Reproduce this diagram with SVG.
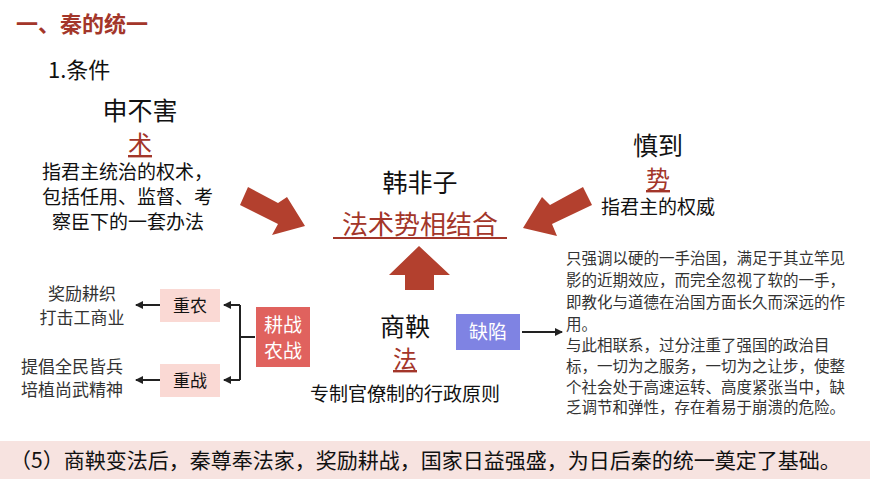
<svg xmlns="http://www.w3.org/2000/svg" width="870" height="489" viewBox="0 0 870 489">
<style>
text{font-family:"Noto Sans CJK SC","Liberation Sans",sans-serif;fill:#111}
.red{fill:#A3362A}
.c{text-anchor:middle}
.blk{fill:#B3402E}
.small{font-size:15.5px;fill:#333}
.mid{font-size:17px;fill:#333}
.ln{stroke:#222;stroke-width:2;fill:none}
</style>
<defs><marker id="ah" markerWidth="8" markerHeight="8" refX="7" refY="4" orient="auto" markerUnits="userSpaceOnUse"><path d="M0,0L8,4L0,8z" fill="#222"/></marker></defs>
<rect width="870" height="489" fill="#fff"/>
<text x="16" y="32" class="red" style="font-size:22px;font-weight:bold">一、秦的统一</text>
<text x="48" y="78" style="font-size:22px">1.条件</text>
<g id="shenbuhai">
<text x="140" y="120" class="c" style="font-size:25px">申不害</text>
<text x="140" y="153" class="c red" style="font-size:24px;text-decoration:underline">术</text>
<text x="42" y="179" style="font-size:19px">指君主统治的权术，</text>
<text x="42" y="204" style="font-size:19px">包括任用、监督、考</text>
<text x="52" y="229" style="font-size:19px">察臣下的一套办法</text>
</g>
<g id="shendao">
<text x="658" y="155" class="c" style="font-size:25px">慎到</text>
<text x="658" y="188" class="c red" style="font-size:24px;text-decoration:underline">势</text>
<text x="658" y="214" class="c" style="font-size:19px">指君主的权威</text>
</g>
<g id="hanfeizi">
<text x="420" y="192" class="c" style="font-size:25px">韩非子</text>
<text x="420" y="234" class="c red" style="font-size:26px">法术势相结合</text>
<rect x="333" y="237" width="174" height="2" fill="#A3362A"/>
</g>
<g id="connectors">
<polygon class="blk" points="248,187 278,203 287,197 305,226 272,235 278,224 240,205"/>
<polygon class="blk" points="583,187 550,205 542,197 523,228 557,236 552,224 592,205"/>
<polygon class="blk" points="419,246 450,275 434,275 434,290 405,290 405,275 389,275"/>
<line class="ln" x1="522" y1="332" x2="562" y2="332" marker-end="url(#ah)"/>
<line class="ln" x1="255" y1="337" x2="240" y2="337"/>
<line class="ln" x1="240" y1="305" x2="240" y2="380"/>
<line class="ln" x1="240" y1="305" x2="224" y2="305" marker-end="url(#ah)"/>
<line class="ln" x1="240" y1="380" x2="224" y2="380" marker-end="url(#ah)"/>
<line class="ln" x1="160" y1="305" x2="136" y2="305" marker-end="url(#ah)"/>
<line class="ln" x1="160" y1="380" x2="136" y2="380" marker-end="url(#ah)"/>
</g>
<g id="gengzhan">
<rect x="256" y="307" width="54" height="60" fill="#E0625E"/>
<text x="283" y="332" class="c" style="font-size:19px;fill:#fff">耕战</text>
<text x="283" y="358" class="c" style="font-size:19px;fill:#fff">农战</text>
</g>
<g id="zhongnong">
<rect x="160" y="289" width="60" height="33" fill="#FAD9D4"/>
<text x="190" y="312" class="c" style="font-size:17px">重农</text>
</g>
<g id="zhongzhan">
<rect x="160" y="364" width="60" height="33" fill="#FAD9D4"/>
<text x="190" y="387" class="c" style="font-size:17px">重战</text>
</g>
<g id="nong-text">
<text x="82" y="300" class="c mid">奖励耕织</text>
<text x="82" y="324" class="c mid">打击工商业</text>
</g>
<g id="zhan-text">
<text x="72" y="373" class="c mid">提倡全民皆兵</text>
<text x="72" y="396" class="c mid">培植尚武精神</text>
</g>
<g id="shangyang">
<text x="405" y="336" class="c" style="font-size:25px">商鞅</text>
<text x="405" y="368" class="c red" style="font-size:24px;text-decoration:underline">法</text>
<text x="405" y="401" class="c" style="font-size:19px">专制官僚制的行政原则</text>
</g>
<g id="quexian">
<rect x="456" y="314" width="64" height="36" fill="#7F83E3"/>
<text x="488" y="339" class="c" style="font-size:19px;fill:#fff">缺陷</text>
</g>
<g id="quexian-text">
<text x="566" y="264" class="small">只强调以硬的一手治国，满足于其立竿见</text>
<text x="566" y="286" class="small">影的近期效应，而完全忽视了软的一手，</text>
<text x="566" y="308" class="small">即教化与道德在治国方面长久而深远的作</text>
<text x="566" y="330" class="small">用。</text>
<text x="566" y="351" class="small">与此相联系，过分注重了强国的政治目</text>
<text x="566" y="372" class="small">标，一切为之服务，一切为之让步，使整</text>
<text x="566" y="393" class="small">个社会处于高速运转、高度紧张当中，缺</text>
<text x="566" y="413" class="small">乏调节和弹性，存在着易于崩溃的危险。</text>
</g>
<rect x="0" y="441" width="870" height="38" fill="#F7E3E0"/>
<text x="10" y="468" style="font-size:21px">（5）商鞅变法后，秦尊奉法家，奖励耕战，国家日益强盛，为日后秦的统一奠定了基础。</text>
</svg>
